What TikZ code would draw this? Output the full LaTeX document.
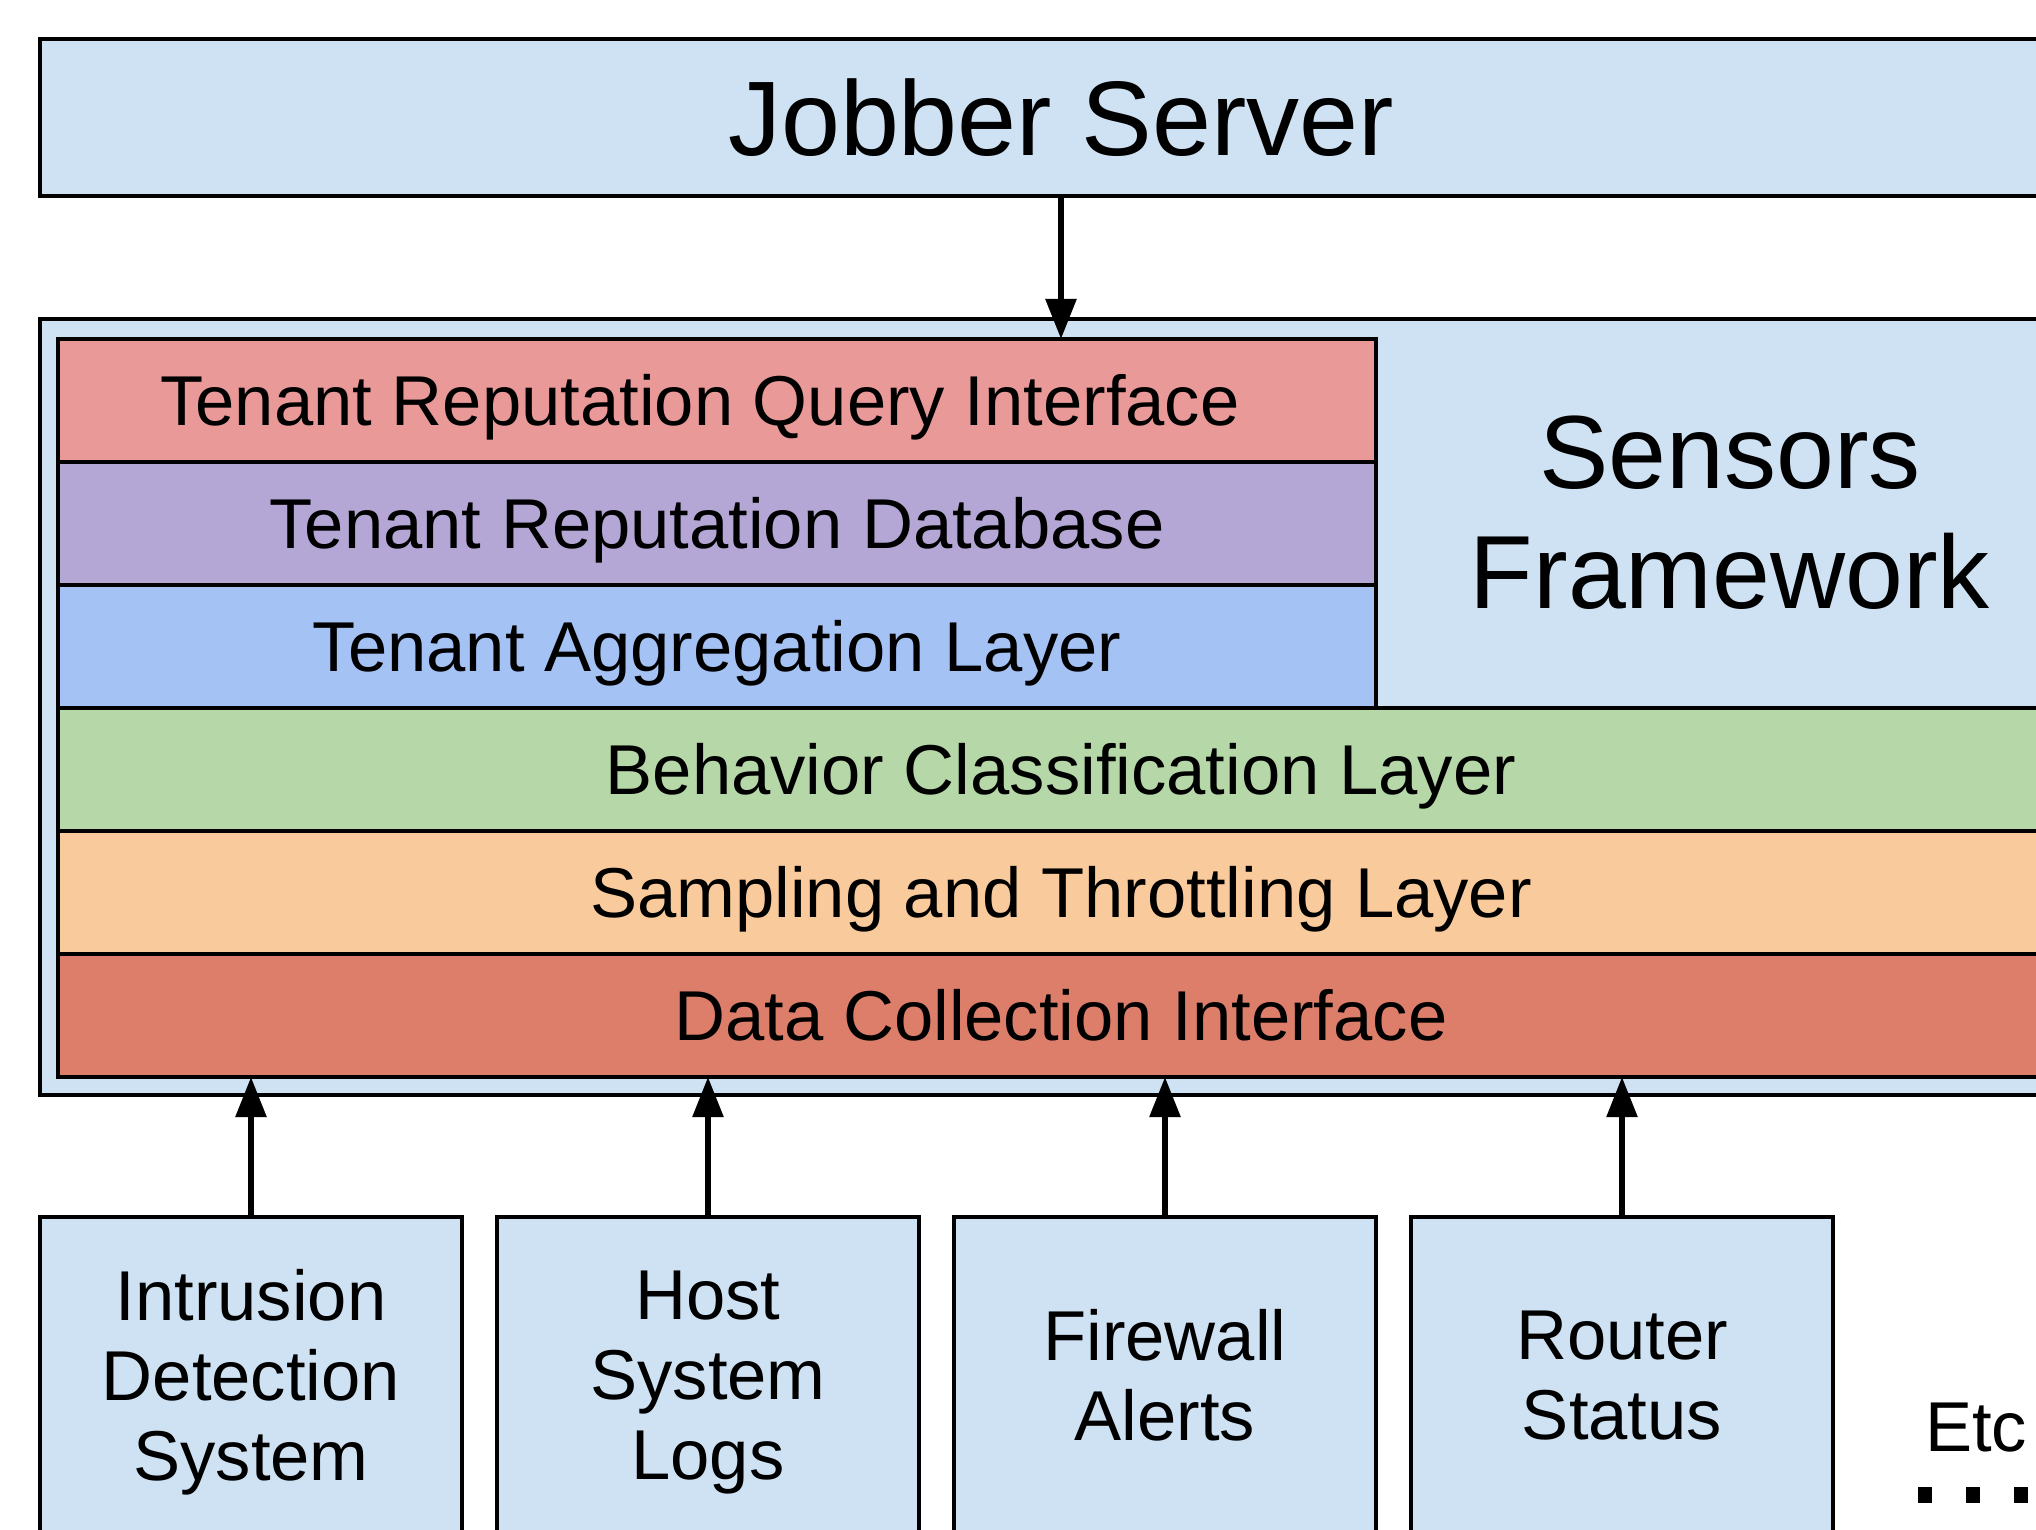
\documentclass[tikz,border=0pt]{standalone}
\usepackage{fontspec}
\setmainfont{Liberation Sans}
\usetikzlibrary{arrows.meta,positioning}

\definecolor{paleblue}{HTML}{CFE2F3}
\definecolor{queryred}{HTML}{EA9999}
\definecolor{dbpurple}{HTML}{B4A7D6}
\definecolor{aggblue}{HTML}{A4C2F4}
\definecolor{behavgreen}{HTML}{B6D7A8}
\definecolor{samporange}{HTML}{F9CB9C}
\definecolor{collred}{HTML}{DD7E6B}

\begin{document}
\begin{tikzpicture}[x=0.5pt,y=-0.5pt,>={Triangle[length=20pt,width=15pt]}]
        \tikzset{block/.style={draw, line width=2pt, fill=paleblue, outer sep=0pt, inner sep=0pt, align=center},
        layer/.style={block, minimum height=61.5pt, text height=25pt, text depth=0pt, font=\fontsize{35.3}{40}\selectfont},
        toplayer/.style={layer, minimum width=659pt},
        widelayer/.style={layer, minimum width=1003pt},
        source/.style={block, minimum width=211pt, minimum height=158pt, text depth=0pt, font=\fontsize{35.3}{40}\selectfont},
        link/.style={->, line width=2.8pt},
        etcdots/.style={line width=8pt, dash pattern=on 7pt off 17pt}
        }
        \clip (0,0) rectangle (2036,1530);

        \node [block, anchor=north west, minimum width=1021pt, minimum height=78.5pt, font=\fontsize{53}{60}\selectfont] (jobber) at (40,39) {Jobber Server};
        \node [block, anchor=north west, minimum width=1021pt, minimum height=388pt] (frame) at (40,319) {};

        \node [toplayer, fill=queryred, anchor=north west] (query) at (58,339) {\hspace*{-17pt}Tenant Reputation Query Interface};
        \node [toplayer, fill=dbpurple, below=0pt of query] (db) {Tenant Reputation Database};
        \node [toplayer, fill=aggblue, below=0pt of db] (agg) {Tenant Aggregation Layer};
        \node [widelayer, fill=behavgreen, below=0pt of agg.south west, anchor=north west] (behav) {Behavior Classification Layer};
        \node [widelayer, fill=samporange, below=0pt of behav] (samp) {Sampling and Throttling Layer};
        \node [widelayer, fill=collred, below=0pt of samp] (coll) {Data Collection Interface};
        \node [align=center, font=\fontsize{52}{60}\selectfont] (fwtitle) at (1730,513) {Sensors\\Framework};

        \node [source, anchor=north west] (ids) at (40,1217) {Intrusion\\Detection\\System};
        \node [source, right=17.5pt of ids] (hostlogs) {Host\\System\\Logs};
        \node [source, right=17.5pt of hostlogs] (firewall) {Firewall\\Alerts};
        \node [source, right=17.5pt of firewall] (router) {Router\\Status};
        \node [font=\fontsize{35.3}{40}\selectfont] (etc) at (1976,1428) {Etc};
        \coordinate (dots) at (1918,1495);

%% paths
        \draw[link] (jobber.south) -- (jobber.south |- query.north);
        \foreach \src in {ids,hostlogs,firewall,router}
            \draw[link] (\src.north) -- (\src.north |- coll.south);
        \draw[etcdots] (dots) -- ++(200,0);
    \end{tikzpicture}
\end{document}
